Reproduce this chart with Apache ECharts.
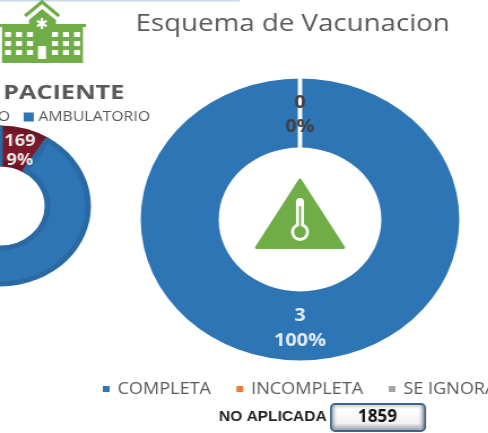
<!DOCTYPE html>
<html><head><meta charset="utf-8">
<script src="https://cdn.jsdelivr.net/npm/echarts@6/dist/echarts.min.js"></script>
<style>html,body{margin:0;padding:0;background:#fff;overflow:hidden;width:488px;height:433px}
#wrap{position:absolute;left:0;top:0;width:488px;height:433px;overflow:hidden}
#c{position:absolute;left:0;top:0;width:432px;height:433px;transform-origin:0 0;transform:scaleX(1.13)}</style>
</head><body><div id="wrap"><div id="c"></div></div>
<script>
const S = 1.13;
const mainTitle = 'Esquema de Vacunacion';
const mainCategories = ['COMPLETA', 'INCOMPLETA', 'SE IGNORA'];
const mainValues = [3, 0, 0];
const patientTitle = 'PACIENTE';
const patientCategories = ['HOSPITALIZADO', 'AMBULATORIO'];
const patientValues = [169, 1709];
const noAplicadaLabel = 'NO APLICADA';
const noAplicadaValue = '1859';
const FONT = '"Open Sans", sans-serif';
const green = '#70ad47';

const chart = echarts.init(document.getElementById('c'), null, {renderer: 'canvas'});

const r = (x, y, w, h, fill, extra) => Object.assign({type: 'rect', shape: {x, y, width: w, height: h}, style: {fill}}, extra || {});
const poly = (pts, fill) => ({type: 'polygon', shape: {points: pts}, style: {fill}});
const chev = (pts, w) => ({type: 'polyline', shape: {points: pts}, style: {stroke: green, lineWidth: w, fill: null}});

const win = [];
[5, 16, 27, 52, 63, 74].forEach(x => [32, 41, 50].forEach(y => win.push(r(x, y, 6, 5, '#fff'))));

const hospital = [
  r(0, 0, 240, 1.5, '#c9d8ea'),
  r(2, 26, 81, 37, green),
  r(0, 24, 86, 3, green),
  poly([[29, 26], [29, 20], [42, 9], [56, 20], [56, 26]], green),
  chev([[25, 16], [42, 2], [59, 16]], 3.5),
  ...win,
  r(38, 46, 8, 13, '#fff'),
  {type: 'text', style: {text: '✱', x: 42, y: 25, fill: '#fff', font: 'bold 15px "DejaVu Sans"', align: 'center', verticalAlign: 'middle'}}
];

const thermo = [
  {type: 'polygon', shape: {points: [[300, 180], [343.5, 247.5], [256.5, 247.5]]}, style: {fill: green, stroke: green, lineWidth: 3, lineJoin: 'round'}},
  r(296, 198, 8, 30, '#fff', {shape: {x: 296, y: 198, width: 8, height: 30, r: 4}}),
  {type: 'circle', shape: {cx: 300, cy: 232, r: 9}, style: {fill: '#fff'}},
  {type: 'circle', shape: {cx: 300, cy: 232, r: 6}, style: {fill: green}},
  r(299, 206, 2, 24, green)
];

const box = [
  {type: 'rect', shape: {x: 331, y: 404, width: 94, height: 27, r: 4},
   style: {fill: new echarts.graphic.LinearGradient(0, 0, 0, 1, [
     {offset: 0, color: '#b8bec4'}, {offset: .22, color: '#ffffff'}, {offset: .7, color: '#f2f2f2'}, {offset: 1, color: '#7c8894'}]),
     stroke: '#3f6389', lineWidth: 2}},
  {type: 'rect', shape: {x: 332, y: 405, width: 92, height: 25, r: 3},
   style: {fill: new echarts.graphic.LinearGradient(0, 0, 1, 0, [
     {offset: 0, color: 'rgba(90,100,110,0.55)'}, {offset: .07, color: 'rgba(255,255,255,0)'}, {offset: .93, color: 'rgba(255,255,255,0)'}, {offset: 1, color: 'rgba(90,100,110,0.7)'}])}},
  {type: 'text', style: {text: noAplicadaValue, x: 377.5, y: 417.5, fill: '#111', font: 'bold 17px "Open Sans"', align: 'center', verticalAlign: 'middle'}},
  {type: 'text', style: {text: noAplicadaLabel, x: 219, y: 417, fill: '#222', font: 'bold 15.5px "Liberation Sans"', align: 'left', verticalAlign: 'middle'}},
  {type: 'text', x: 3, y: 93.5, scaleX: 1.265, style: {text: patientTitle, x: 0, y: 0, fill: '#595959', font: 'bold 20px "Open Sans"', align: 'left', verticalAlign: 'middle'}}
];

chart.setOption({
  animation: false,
  backgroundColor: '#fff',
  title: [
    {text: mainTitle, left: 120, top: 12, padding: 0, textStyle: {fontFamily: FONT, fontSize: 24.5, fontWeight: 'normal', color: '#595959'}}
  ],
  legend: [
    {data: mainCategories, left: 91, top: 381, width: 600, padding: 0, itemWidth: 6, itemHeight: 6, itemGap: 22.5, icon: 'rect',
     itemStyle: {borderWidth: 0},
     textStyle: {fontFamily: FONT, fontSize: 16, color: '#595959', padding: [0, 0, 0, 2]}},
    {data: patientCategories, left: -111, top: 110, width: 600, padding: 0, itemWidth: 9, itemHeight: 9, itemGap: 12, icon: 'rect',
     itemStyle: {borderWidth: 0},
     textStyle: {fontFamily: FONT, fontSize: 14, color: '#595959', padding: [0, 0, 0, -1]}}
  ],
  series: [
    {type: 'pie', center: [265.5, 219.5], radius: [72, 141], startAngle: 90, clockwise: true,
     stillShowZeroSum: true, silent: true,
     label: {position: 'inside', formatter: '{c}\n{d}%', fontFamily: FONT, fontSize: 17.5, fontWeight: 'bold', lineHeight: 24},
     labelLine: {show: false},
     data: mainCategories.map((name, i) => ({
       name, value: mainValues[i],
       itemStyle: {color: ['#2e75b6', '#ed7d31', '#a5a5a5'][i], borderColor: '#fff', borderWidth: i === 0 ? 0 : 3.5},
       label: {color: i === 0 ? '#e4ebf3' : '#404040', lineHeight: i === 0 ? 25 : 24, offset: [0, i === 0 ? 0 : 5]}
     }))},
    {type: 'pie', center: [0, 206], radius: [42, 78], startAngle: 90, clockwise: true, silent: true,
     label: {position: 'inside', formatter: '{c}\n{d}%', fontFamily: FONT, fontSize: 16, fontWeight: 'bold', lineHeight: 19, color: '#e8e8e8', offset: [0, 5]},
     labelLine: {show: false},
     data: patientCategories.map((name, i) => ({
       name, value: patientValues[i],
       itemStyle: {color: ['#7b1a2b', '#2e75b6'][i], borderColor: ['#6d1626', '#2a69a3'][i], borderWidth: 5}
     }))}
  ],
  graphic: [
    {type: 'group', x: 0, y: 0, scaleX: 1 / S, z: 100, silent: true, children: [...hospital, ...thermo, ...box]}
  ]
});
</script></body></html>
